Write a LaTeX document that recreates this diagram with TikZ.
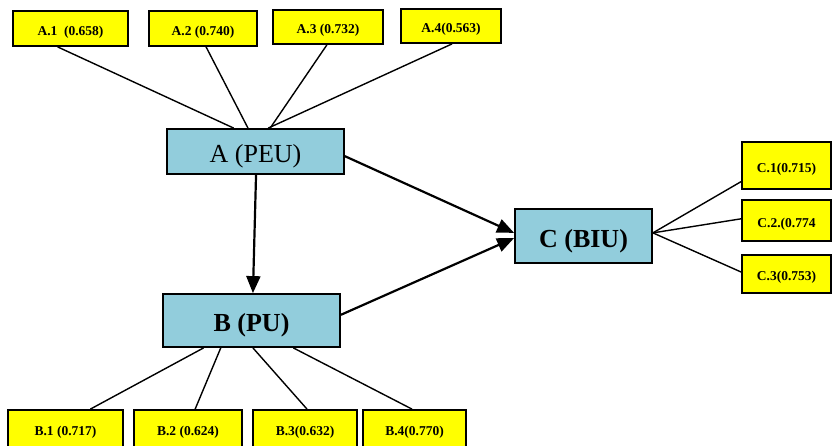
\documentclass[tikz,border=0pt]{standalone}
\usepackage{fontspec}
\setmainfont{Liberation Serif}
\usetikzlibrary{calc,arrows.meta}
\definecolor{lblue}{RGB}{146,205,220}
\definecolor{lyellow}{RGB}{255,255,0}
\tikzset{
  ind/.style={draw=black, line width=1.8pt, fill=lyellow, inner sep=0pt,
    text height=13pt, text depth=0pt,
    font=\fontsize{13.5}{15}\selectfont\bfseries},
  cons/.style={draw=black, line width=1.8pt, fill=lblue, inner sep=0pt,
    text height=22pt, text depth=0pt,
    font=\fontsize{26}{30}\selectfont},
  link/.style={line width=1.4pt, black},
  arr/.style={line width=2.2pt, black, -{Triangle[length=17pt,width=14pt]}}
}
\begin{document}
\begin{tikzpicture}[x=1pt,y=-1pt]
\useasboundingbox (0,0) rectangle (832,445);
% indicators A
\node[ind, minimum width=115pt, minimum height=35pt] (a1) at (70.5,28.5) {A.1\ \ (0.658)};
\node[ind, minimum width=108pt, minimum height=35pt] (a2) at (203,28.5) {A.2 (0.740)};
\node[ind, minimum width=110pt, minimum height=34pt] (a3) at (328,27) {A.3 (0.732)};
\node[ind, minimum width=100pt, minimum height=34pt] (a4) at (451,26) {A.4(0.563)};
% constructs
\node[cons, minimum width=177pt, minimum height=45pt] (A) at (255.5,151.5) {A (PEU)};
\node[cons, minimum width=177pt, minimum height=53pt, font=\fontsize{26}{30}\selectfont\bfseries] (B) at (251.5,320.5) {B (PU)};
\node[cons, minimum width=137pt, minimum height=54pt, font=\fontsize{26}{30}\selectfont\bfseries] (C) at (583.5,236) {C (BIU)};
% indicators C
\node[ind, minimum width=89pt, minimum height=47pt] (c1) at (786.5,165.5) {C.1(0.715)};
\node[ind, minimum width=89pt, minimum height=41pt] (c2) at (786.5,220.5) {C.2.(0.774};
\node[ind, minimum width=89pt, minimum height=38pt] (c3) at (786.5,274) {C.3(0.753)};
% indicators B
\node[ind, minimum width=115pt, minimum height=37pt] (b1) at (65.5,428.5) {B.1 (0.717)};
\node[ind, minimum width=108pt, minimum height=37pt] (b2) at (188,428.5) {B.2 (0.624)};
\node[ind, minimum width=104pt, minimum height=37pt] (b3) at (305,428.5) {B.3(0.632)};
\node[ind, minimum width=103pt, minimum height=37pt] (b4) at (414.5,428.5) {B.4(0.770)};
% A links
\draw[link] ($(a1.south west)!0.39!(a1.south east)$) -- ($(A.north west)!0.378!(A.north east)$);
\draw[link] ($(a2.south west)!0.528!(a2.south east)$) -- ($(A.north west)!0.458!(A.north east)$);
\draw[link] ($(a3.south west)!0.49!(a3.south east)$) -- ($(A.north west)!0.582!(A.north east)$);
\draw[link] ($(a4.south west)!0.51!(a4.south east)$) -- ($(A.north west)!0.571!(A.north east)$);
% B links
\draw[link] ($(B.south west)!0.232!(B.south east)$) -- ($(b1.north west)!0.713!(b1.north east)$);
\draw[link] ($(B.south west)!0.328!(B.south east)$) -- ($(b2.north west)!0.565!(b2.north east)$);
\draw[link] ($(B.south west)!0.508!(B.south east)$) -- ($(b3.north west)!0.519!(b3.north east)$);
\draw[link] ($(B.south west)!0.734!(B.south east)$) -- ($(b4.north west)!0.476!(b4.north east)$);
% C links
\coordinate (cr) at ($(C.north east)!0.444!(C.south east)$);
\draw[link] (cr) -- ($(c1.north west)!0.83!(c1.south west)$);
\draw[link] (cr) -- ($(c2.north west)!0.46!(c2.south west)$);
\draw[link] (cr) -- ($(c3.north west)!0.45!(c3.south west)$);
% structural arrows
\draw[arr] ($(A.south west)!0.503!(A.south east)$) -- ($(B.north west)!0.508!(B.north east)$);
\draw[arr] ($(A.north east)!0.6!(A.south east)$) -- ($(C.north west)!0.444!(C.south west)$);
\draw[arr] ($(B.north east)!0.396!(B.south east)$) -- ($(C.north west)!0.537!(C.south west)$);
\end{tikzpicture}
\end{document}
